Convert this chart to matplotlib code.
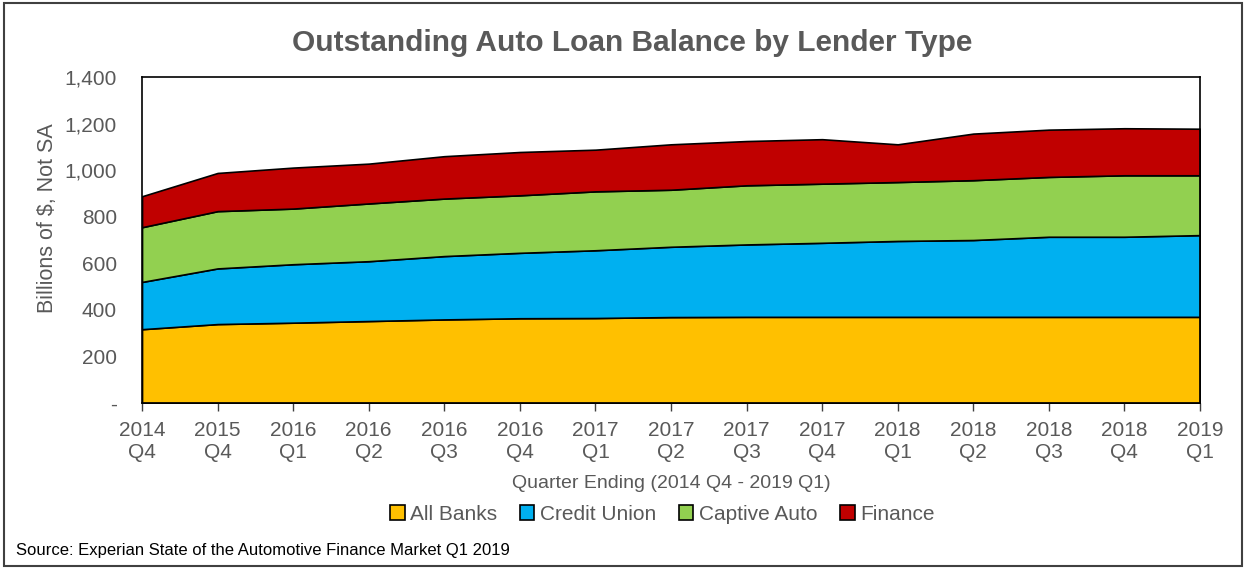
import numpy as np
import matplotlib
matplotlib.use('Agg')
import matplotlib.pyplot as plt
from matplotlib.patches import Rectangle, Patch

plt.rcParams['font.family'] = ['Liberation Sans', 'DejaVu Sans']

quarters = ['2014\nQ4', '2015\nQ4', '2016\nQ1', '2016\nQ2', '2016\nQ3', '2016\nQ4',
            '2017\nQ1', '2017\nQ2', '2017\nQ3', '2017\nQ4', '2018\nQ1', '2018\nQ2',
            '2018\nQ3', '2018\nQ4', '2019\nQ1']

# billions of $
all_banks = [317, 339, 345, 352, 359, 364, 365, 369, 370, 370, 370, 370, 370, 370, 370]
credit_union = [203, 239, 251, 257, 272, 281, 291, 302, 311, 318, 326, 330, 344, 344, 351]
captive_auto = [235, 246, 239, 248, 247, 247, 253, 245, 254, 254, 253, 257, 257, 264, 257]
finance = [133, 164, 176, 171, 182, 186, 179, 195, 190, 191, 162, 200, 203, 202, 200]

labels = ['All Banks', 'Credit Union', 'Captive Auto', 'Finance']
colors = ['#FFC000', '#00B0F0', '#92D050', '#C00000']
grey = '#595959'

fig = plt.figure(figsize=(12.47, 5.71), dpi=100)
ax = fig.add_axes([0.1139, 0.2942, 0.8484, 0.5709])

x = np.arange(len(quarters))
ax.stackplot(x, all_banks, credit_union, captive_auto, finance,
             colors=colors, edgecolor='black', linewidth=1.2)

ax.set_xlim(0, len(quarters) - 1)
ax.set_ylim(0, 1400)
ax.set_xticks(x)
ax.set_xticklabels(quarters, fontsize=15, color=grey, linespacing=1.2)
yt = np.arange(0, 1401, 200)
ax.set_yticks(yt)
ax.set_yticklabels(['-'] + [f'{v:,}' for v in yt[1:]], fontsize=15, color=grey)
ax.tick_params(axis='x', direction='out', length=6, width=1, color='#404040', pad=7)
ax.tick_params(axis='y', length=0, pad=18)
for s in ax.spines.values():
    s.set_linewidth(1.2)
    s.set_color('black')

ax.set_ylabel('Billions of $, Not SA', fontsize=15.5, color=grey)
ax.yaxis.set_label_coords(-0.0794, 0.567)
ax.set_xlabel('Quarter Ending (2014 Q4 - 2019 Q1)', fontsize=14, color=grey, labelpad=9)

fig.text(0.507, 0.925, 'Outstanding Auto Loan Balance by Lender Type', ha='center',
         va='center', fontsize=21.5, fontweight='bold', color=grey)

handles = [Patch(facecolor=c, edgecolor='black', linewidth=1.2) for c in colors]
fig.legend(handles, labels, loc='center', bbox_to_anchor=(0.531, 0.099), ncol=4,
           frameon=False, fontsize=15, handlelength=0.7, handleheight=0.7,
           handletextpad=0.25, columnspacing=1.1, labelcolor=grey)

fig.text(0.013, 0.036, 'Source: Experian State of the Automotive Finance Market Q1 2019',
         fontsize=12, color='black', va='center')

fig.add_artist(Rectangle((0.003, 0.008), 0.993, 0.986, transform=fig.transFigure,
                         fill=False, edgecolor='#404040', linewidth=1.5))

fig.savefig('out.png', dpi=100)
